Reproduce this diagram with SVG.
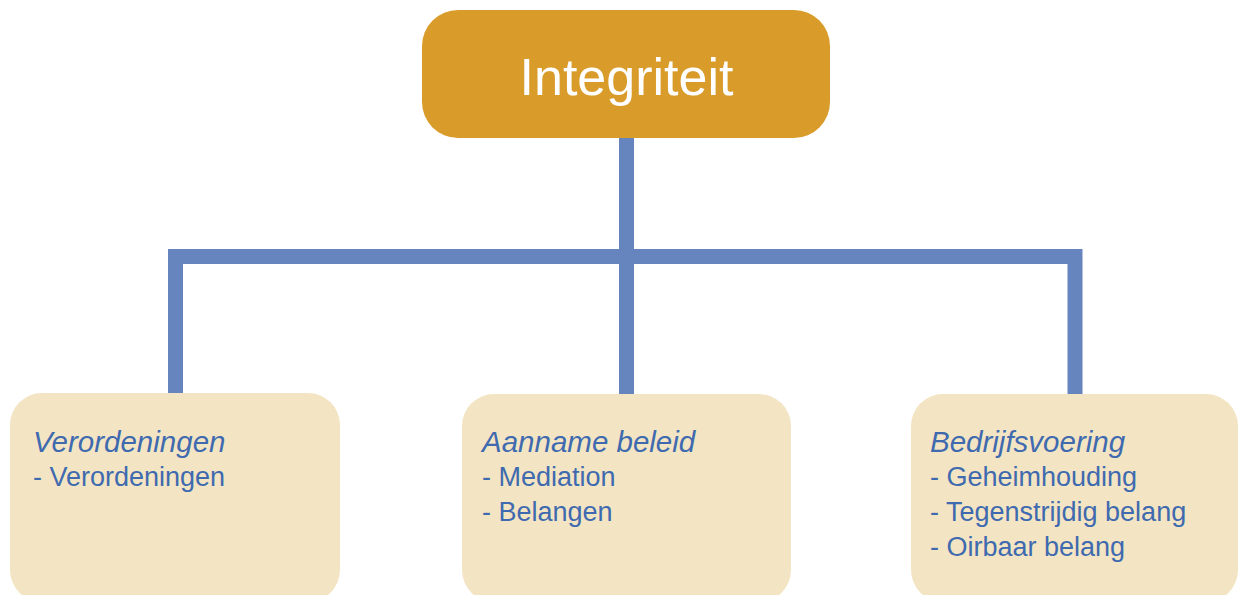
<svg xmlns="http://www.w3.org/2000/svg" width="1241" height="595" viewBox="0 0 1241 595">
<style>
.conn{fill:none;stroke:#6685BE;stroke-width:15;stroke-linecap:butt;stroke-linejoin:miter}
.box{fill:#F3E5C3}
.t{font-family:"Liberation Sans",Arial,sans-serif;fill:#3F6AAF}
.h{font-size:29.5px;font-style:italic}
.b{font-size:27px}
</style>
<rect width="1241" height="595" fill="#FFFFFF"/>
<g id="connectors">
<path class="conn" d="M626.5 138 V396"/>
<path class="conn" d="M175.5 396 V256.5 H1075 V396"/>
</g>
<g id="node-integriteit">
<rect x="422" y="10" width="408" height="128" rx="36" fill="#D99C2B"/>
<text x="626.5" y="95" text-anchor="middle" font-family="Liberation Sans,Arial,sans-serif" font-size="52" fill="#FFFFFF">Integriteit</text>
</g>
<g id="node-verordeningen">
<rect class="box" x="10" y="393" width="330" height="209" rx="32"/>
<text class="t h" x="33" y="452">Verordeningen</text>
<text class="t b" x="33" y="486">- Verordeningen</text>
</g>
<g id="node-aanname">
<rect class="box" x="462" y="394" width="329" height="208" rx="32"/>
<text class="t h" x="482" y="452">Aanname beleid</text>
<text class="t b" x="482" y="486">- Mediation</text>
<text class="t b" x="482" y="521">- Belangen</text>
</g>
<g id="node-bedrijfsvoering">
<rect class="box" x="911" y="394" width="327" height="208" rx="32"/>
<text class="t h" x="930" y="452">Bedrijfsvoering</text>
<text class="t b" x="930" y="486">- Geheimhouding</text>
<text class="t b" x="930" y="521">- Tegenstrijdig belang</text>
<text class="t b" x="930" y="556">- Oirbaar belang</text>
</g>
</svg>
